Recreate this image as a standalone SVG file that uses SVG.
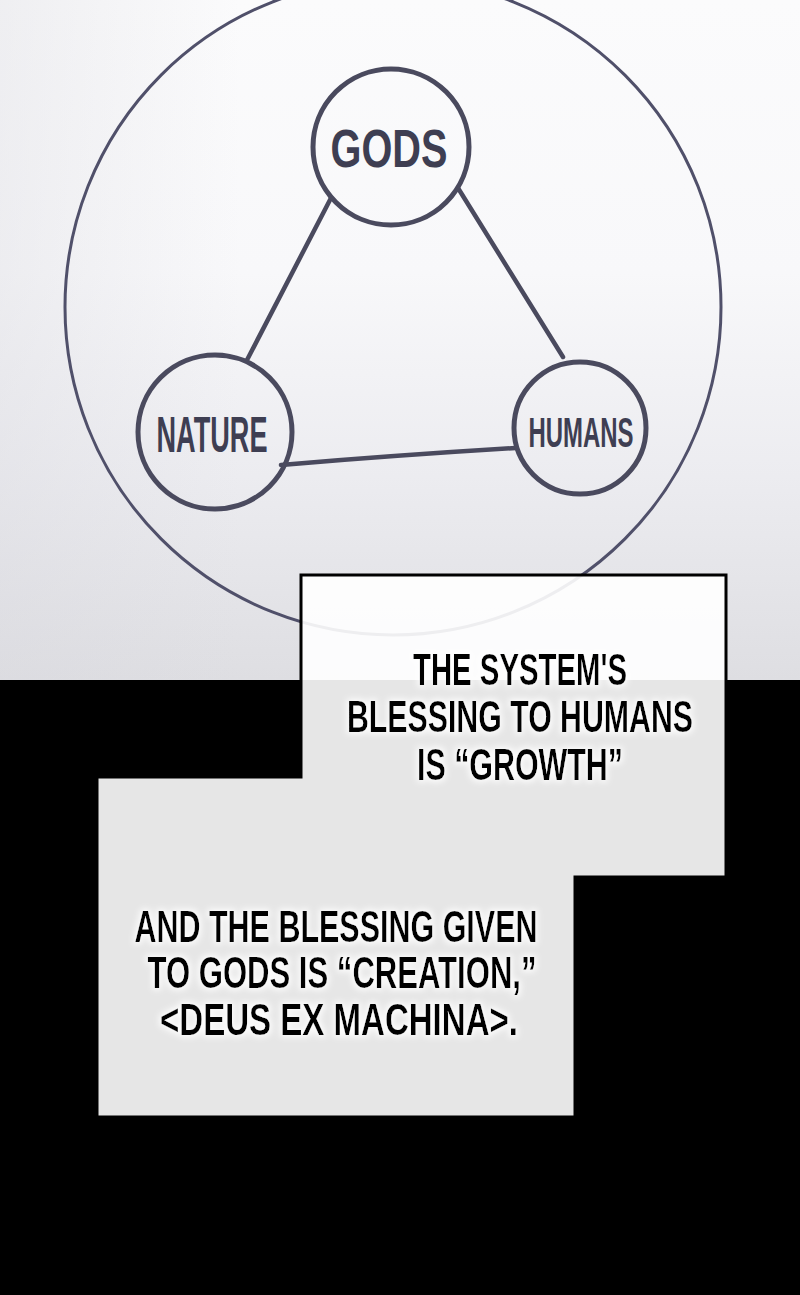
<svg xmlns="http://www.w3.org/2000/svg" width="800" height="1295" viewBox="0 0 800 1295">
  <defs>
    <linearGradient id="bg" x1="0" y1="0" x2="0" y2="680" gradientUnits="userSpaceOnUse">
      <stop offset="0" stop-color="#fbfbfc"/>
      <stop offset="0.4" stop-color="#f8f8fa"/>
      <stop offset="0.7" stop-color="#ececf0"/>
      <stop offset="1" stop-color="#dedee2"/>
    </linearGradient>
    <linearGradient id="side" x1="0" y1="0" x2="800" y2="0" gradientUnits="userSpaceOnUse">
      <stop offset="0" stop-color="#d8d8de" stop-opacity="0.35"/>
      <stop offset="0.3" stop-color="#d8d8de" stop-opacity="0"/>
      <stop offset="1" stop-color="#d8d8de" stop-opacity="0"/>
    </linearGradient>
    <filter id="glow" x="-10%" y="-30%" width="120%" height="160%">
      <feMorphology in="SourceAlpha" operator="dilate" radius="2" result="d"/>
      <feGaussianBlur in="d" stdDeviation="3" result="b"/>
      <feFlood flood-color="#ffffff" flood-opacity="0.9"/>
      <feComposite in2="b" operator="in" result="w"/>
      <feMerge>
        <feMergeNode in="w"/>
        <feMergeNode in="SourceGraphic"/>
      </feMerge>
    </filter>
  </defs>
  <style>
    .node { fill: none; stroke: #4a4a5e; stroke-width: 5; }
    .edge { fill: none; stroke: #4a4a5e; stroke-width: 4.5; stroke-linecap: round; }
    .label { font-family: "Liberation Sans Narrow", "Liberation Sans", "DejaVu Sans", sans-serif; font-weight: bold; fill: #3e3e52; text-anchor: middle; }
    .say { font-family: "Liberation Sans Narrow", "Liberation Sans", "DejaVu Sans", sans-serif; font-weight: bold; font-size: 44px; fill: #000000; text-anchor: middle; }
  </style>

  <!-- background -->
  <rect x="0" y="0" width="800" height="680" fill="url(#bg)"/>
  <rect x="0" y="0" width="800" height="680" fill="url(#side)"/>
  <rect x="0" y="680" width="800" height="615" fill="#000000"/>

  <!-- outer circle -->
  <g id="outer-circle">
    <circle cx="393" cy="307" r="328" fill="none" stroke="#50506a" stroke-width="3"/>
  </g>

  <!-- connectors -->
  <g id="connectors">
    <line class="edge" x1="331" y1="198" x2="247" y2="360"/>
    <line class="edge" x1="458" y1="188" x2="563" y2="357"/>
    <path class="edge" d="M281 465 Q 400 455 516 448"/>
  </g>

  <g id="node-gods">
    <circle class="node" cx="391" cy="147" r="78" fill="none"/>
    <text class="label" x="389" y="167" font-size="54" textLength="117" lengthAdjust="spacingAndGlyphs">GODS</text>
  </g>

  <g id="node-nature">
    <circle class="node" cx="215" cy="432" r="77"/>
    <text class="label" x="212" y="452" font-size="50" textLength="111" lengthAdjust="spacingAndGlyphs">NATURE</text>
  </g>

  <g id="node-humans">
    <circle class="node" cx="580" cy="428" r="66"/>
    <text class="label" x="581" y="447" font-size="43" textLength="105" lengthAdjust="spacingAndGlyphs">HUMANS</text>
  </g>

  <!-- caption box -->
  <g id="caption-box">
    <path d="M301 575 H726 V877 H575 V1117 H97 V777 H301 Z" fill="#ffffff" fill-opacity="0.9" stroke="#000000" stroke-width="3"/>
  </g>

  <g id="caption-1" filter="url(#glow)">
    <text class="say" x="520" y="685" textLength="214" lengthAdjust="spacingAndGlyphs">THE SYSTEM'S</text>
    <text class="say" x="520" y="732" textLength="346" lengthAdjust="spacingAndGlyphs">BLESSING TO HUMANS</text>
    <text class="say" x="520" y="780" textLength="206" lengthAdjust="spacingAndGlyphs">IS “GROWTH”</text>
  </g>

  <g id="caption-2" filter="url(#glow)">
    <text class="say" x="336" y="942" textLength="403" lengthAdjust="spacingAndGlyphs">AND THE BLESSING GIVEN</text>
    <text class="say" x="342" y="988" textLength="389" lengthAdjust="spacingAndGlyphs">TO GODS IS “CREATION,”</text>
    <text class="say" x="339" y="1035" textLength="358" lengthAdjust="spacingAndGlyphs">&lt;DEUS EX MACHINA&gt;.</text>
  </g>
</svg>
